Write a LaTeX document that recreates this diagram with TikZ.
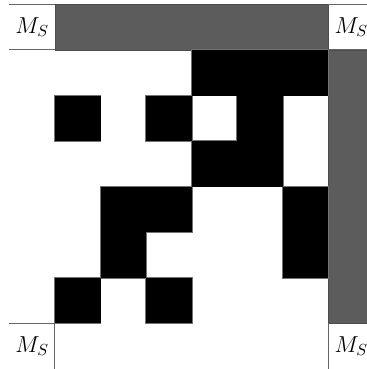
\documentclass[tikz,border=0pt]{standalone}
\begin{document}
\begin{tikzpicture}[x=1cm,y=1cm,
  celledge/.style={draw=black!55,line width=1pt},
  cellfill/.style={fill=black},
  barbox/.style={fill=black!64,draw=black!70,line width=0.5pt},
  edgeline/.style={draw=black!60,line width=0.6pt},
  lbl/.style={font=\Large}]
\useasboundingbox (-1.206,-7) rectangle (6.842,1.096);
% gray bars
\path[barbox] (0,0) rectangle (6,1);
\path[barbox] (6,-6) rectangle (7,0);
% black cells (col, row): outlines first, then fills hide inner borders
\def\cells{3/0,4/0,5/0, 0/1,2/1,4/1, 3/2,4/2, 1/3,2/3,5/3, 1/4,5/4, 0/5,2/5}
\foreach \c/\r in \cells
  \path[celledge] (\c,-\r) rectangle (\c+1,-\r-1);
\foreach \c/\r in \cells
  \path[cellfill] (\c,-\r) rectangle (\c+1,-\r-1);
% label cells
\node[lbl] (tl) at (-0.5,0.5) {$M_S$};
\node[lbl] (tr) at (6.5,0.5) {$M_S$};
\node[lbl] (bl) at (-0.5,-6.5) {$M_S$};
\node[lbl] (br) at (6.5,-6.5) {$M_S$};
% label borders
\draw[edgeline] (-1,1) -- (0,1);
\draw[edgeline] (-1,0) -- (0,0);
\draw[edgeline] (6,1) -- (7,1);
\draw[edgeline] (6,0) -- (7,0);
\draw[edgeline] (-1,-6) -- (0,-6) -- (0,-7);
\draw[edgeline] (6,-6) -- (6,-7);
\end{tikzpicture}
\end{document}
